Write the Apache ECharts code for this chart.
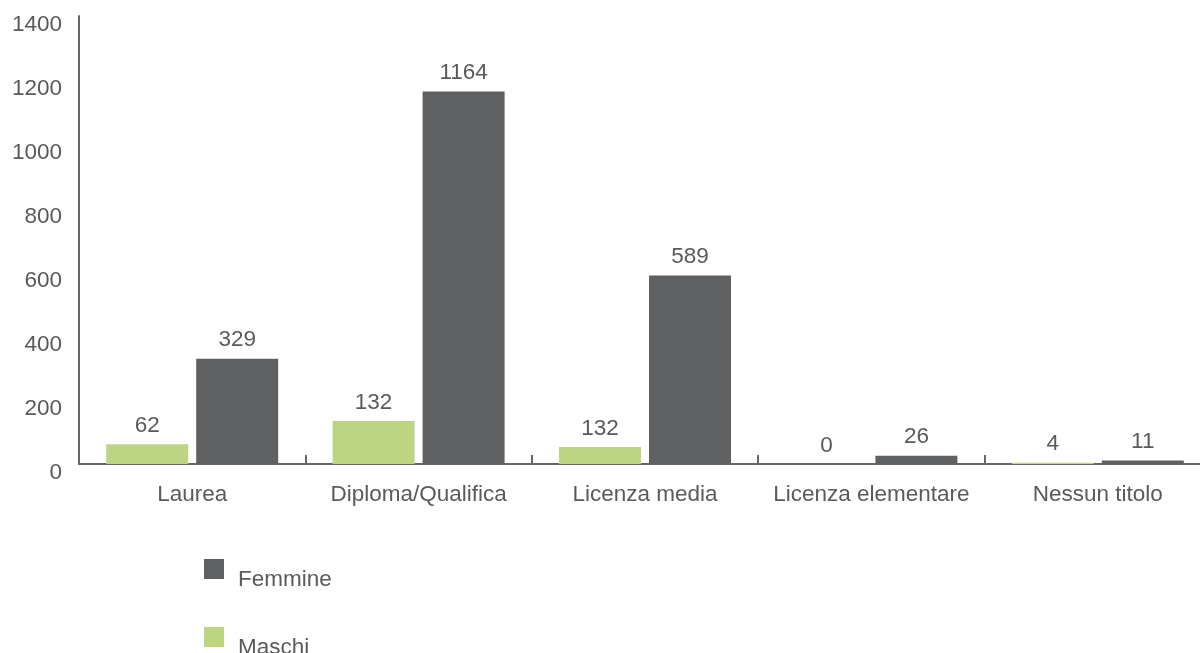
<!DOCTYPE html>
<html><head><meta charset="utf-8">
<script src="https://cdn.jsdelivr.net/npm/echarts@6/dist/echarts.min.js"></script>
<style>html,body{margin:0;padding:0;background:#fff}#c{width:1200px;height:653px}</style>
</head><body><div id="c"></div>
<script>
const categories = ['Laurea', 'Diploma/Qualifica', 'Licenza media', 'Licenza elementare', 'Nessun titolo'];
const maschi = [62, 134, 53, 0, 4];
const maschiLabels = ['62', '132', '132', '0', '4'];
const femmine = [329, 1164, 589, 26, 11];
const femmineLabels = ['329', '1164', '589', '26', '11'];
const yTicks = [0, 200, 400, 600, 800, 1000, 1200, 1400];

const FONT = '"Liberation Sans", Arial, sans-serif';
const FS = 22.5;
const TXT = '#5a5a5a';
const chart = echarts.init(document.getElementById('c'), null, {renderer: 'canvas'});
const legendText = {padding: [0, 0, 0, 9],
  rich: {a: {fontFamily: FONT, fontSize: FS, color: TXT, padding: [22, 0, 0, 0]}}};
chart.setOption({
  animation: false,
  textStyle: {fontFamily: FONT},
  grid: {left: 79, width: 1132, top: 16, bottom: 189, containLabel: false, outerBoundsMode: 'none'},
  legend: [
    {left: 199, top: 554, itemWidth: 20, itemHeight: 20, icon: 'rect', data: ['Femmine'],
     formatter: n => '{a|' + n + '}', textStyle: legendText},
    {left: 199, top: 622, itemWidth: 20, itemHeight: 20, icon: 'rect', data: ['Maschi'],
     formatter: n => '{a|' + n + '}', textStyle: legendText}
  ],
  xAxis: {
    type: 'category', data: categories,
    axisLine: {lineStyle: {color: '#666', width: 2}},
    axisTick: {show: true, inside: true, length: 9, alignWithLabel: false, lineStyle: {color: '#666', width: 2}},
    axisLabel: {fontFamily: FONT, fontSize: FS, color: TXT, margin: 19, interval: 0}
  },
  yAxis: {
    type: 'value', min: 0, max: 1400, interval: 200,
    axisLine: {show: true, lineStyle: {color: '#666', width: 2}},
    axisTick: {show: false},
    splitLine: {show: false},
    axisLabel: {margin: 17,
      formatter: v => yTicks.includes(v) ? '{a|' + v + '}' : '',
      rich: {a: {fontFamily: FONT, fontSize: FS, color: TXT, padding: [18, 0, 0, 0]}}}
  },
  series: [
    {name: 'Maschi', type: 'bar', data: maschi, barWidth: 82, barGap: '9.75%',
     itemStyle: {color: '#bdd581'},
     label: {show: true, position: 'top', distance: 7, fontFamily: FONT, fontSize: FS, color: TXT,
       formatter: p => maschiLabels[p.dataIndex]}},
    {name: 'Femmine', type: 'bar', data: femmine, barWidth: 82, barGap: '9.75%',
     itemStyle: {color: '#5f6062'},
     label: {show: true, position: 'top', distance: 7, fontFamily: FONT, fontSize: FS, color: TXT,
       formatter: p => femmineLabels[p.dataIndex]}}
  ]
});
</script></body></html>
